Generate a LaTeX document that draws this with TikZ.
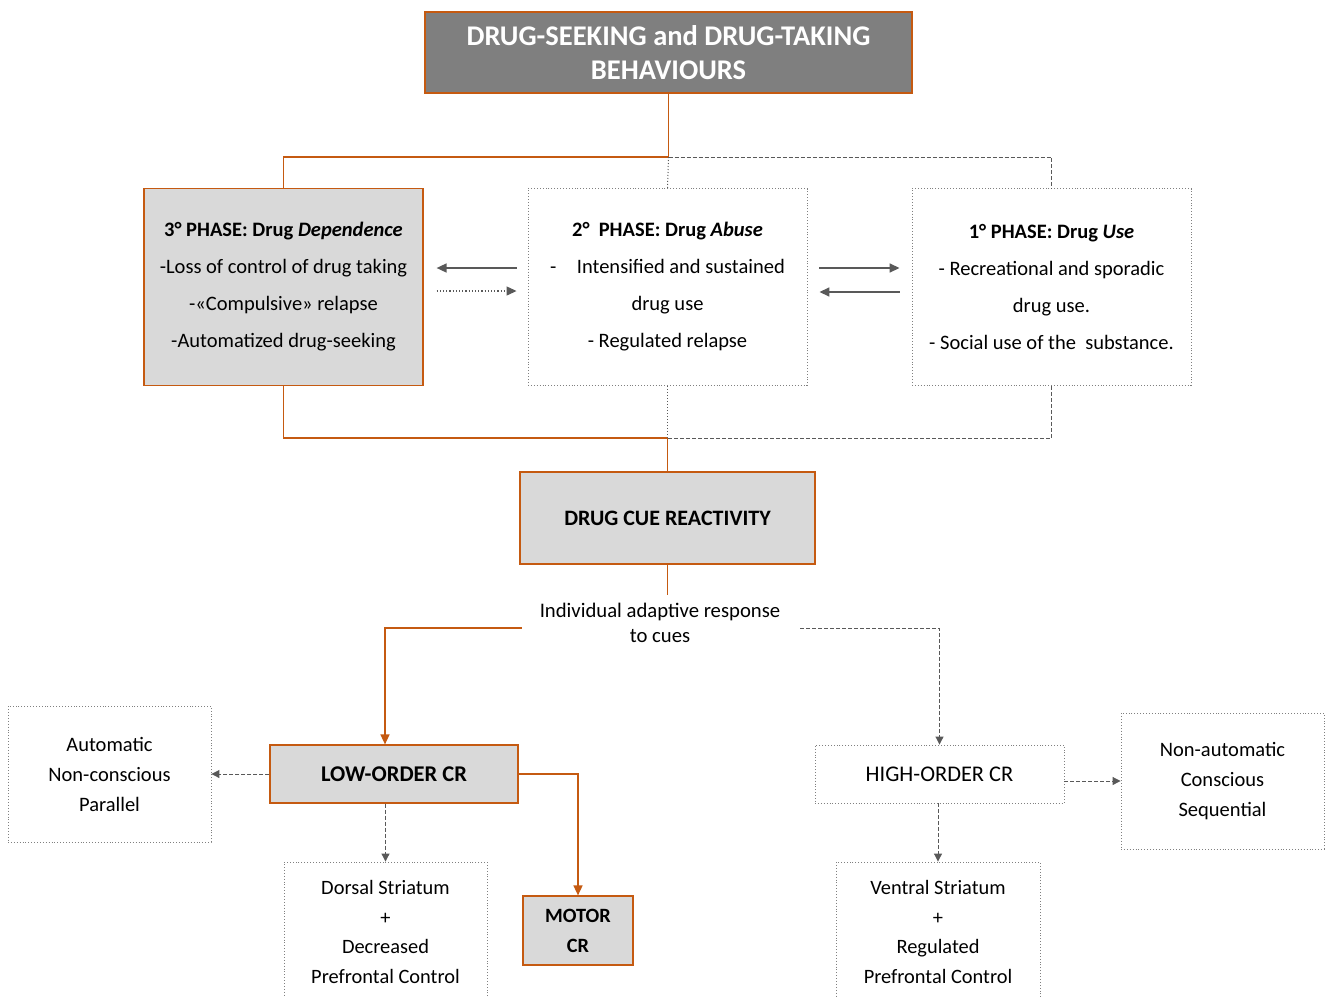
\documentclass[tikz,border=0pt]{standalone}
\usepackage{fontspec}
\setmainfont{Carlito}
\usetikzlibrary{arrows.meta}

\definecolor{rust}{RGB}{197,90,17}
\definecolor{boxgray}{RGB}{217,217,217}
\definecolor{darkbox}{RGB}{127,127,127}
\definecolor{linegray}{RGB}{89,89,89}

\tikzset{
  solidbox/.style={draw=rust, fill=boxgray, line width=1.2pt, align=center},
  openbox/.style={draw=gray, dotted, line width=0.9pt, align=center},
  brownline/.style={draw=rust, line width=1.6pt},
  grayline/.style={draw=linegray, line width=1.6pt},
  grayfine/.style={draw=linegray, line width=1pt},
  dashline/.style={dash pattern=on 4pt off 2pt},
  tip/.style={-{Triangle[length=10pt,width=9pt]}},
  smalltip/.style={-{Triangle[length=8pt,width=8pt]}},
}

\begin{document}
\begin{tikzpicture}[x=1pt, y=-1pt, font=\fontsize{20.5}{37}\selectfont]

    \useasboundingbox (0,0) rectangle (1325,996);
    \clip (0,0) rectangle (1325,996);

    % titolo
    \node[solidbox, fill=darkbox, text=white, font=\bfseries\fontsize{28.5}{34}\selectfont,
          minimum width=487pt, minimum height=81pt] (top) at (668.5,52.5)
          {DRUG-SEEKING and DRUG-TAKING\\BEHAVIOURS};

    % le tre fasi
    \node[solidbox, minimum width=279pt, minimum height=197pt] (dep) at (283.5,287)
          {\textbf{3° PHASE: Drug \textit{Dependence}}\\-Loss of control of drug taking\\-«Compulsive» relapse\\-Automatized drug-seeking};
    \node[openbox, minimum width=279pt, minimum height=197pt] (abuse) at (667.5,287)
          {\textbf{2°\ \ PHASE: Drug \textit{Abuse}}\\-\quad Intensified and sustained\\drug use\\- Regulated relapse};
    \node[openbox, minimum width=279pt, minimum height=197pt] (use) at (1051.5,287)
          {\textbf{1° PHASE: Drug \textit{Use}}\\- Recreational and sporadic\\drug use.\\- Social use of the\ \ substance.};

    % collegamenti in alto
    \coordinate (upsplit) at (top.south |- 0,157);
    \draw[brownline] (top.south) -- (upsplit) -| (dep.north);
    \draw[grayfine, dashline] (upsplit) -| (use.north);
    \draw[grayfine, dotted] (upsplit) -- (abuse.north);

    % frecce tra le fasi
    \draw[grayline, tip, shorten <=11pt, shorten >=13pt] (abuse.west |- 0,268) -- (dep.east |- 0,268);
    \draw[grayline, line width=1.2pt, dotted, tip, shorten <=13pt, shorten >=11pt] (dep.east |- 0,291) -- (abuse.west |- 0,291);
    \draw[grayline, tip, shorten <=12pt, shorten >=12pt] (abuse.east |- 0,268) -- (use.west |- 0,268);
    \draw[grayline, tip, shorten <=12pt, shorten >=12pt] (use.west |- 0,292) -- (abuse.east |- 0,292);

    % cue reactivity
    \node[solidbox, font=\bfseries\fontsize{22}{24}\selectfont,
          minimum width=295pt, minimum height=92pt] (cue) at (667.5,518) {DRUG CUE REACTIVITY};

    \coordinate (lowsplit) at (abuse.south |- 0,438);
    \draw[brownline] (dep.south) |- (lowsplit) -- (cue.north);
    \draw[grayfine, dashline] (use.south) |- (lowsplit);
    \draw[grayfine, dotted] (abuse.south) -- (lowsplit);

    \node[align=center, font=\fontsize{20.7}{25}\selectfont, inner sep=2pt] (resp) at (660,623)
          {Individual adaptive response\\to cues};
    \draw[brownline] (cue.south) -- ++(0,30);

    % risposte condizionate
    \node[solidbox, font=\bfseries\fontsize{22.5}{24}\selectfont,
          minimum width=248pt, minimum height=58pt] (low) at (394,774) {LOW-ORDER CR};
    \node[openbox, font=\fontsize{22.4}{24}\selectfont,
          minimum width=249pt, minimum height=58pt] (high) at (939.5,774) {HIGH-ORDER CR};

    \draw[brownline, tip, shorten <=16pt] (resp.west |- 0,628) -| ([xshift=-9pt]low.north);
    \draw[grayfine, dashline, smalltip, shorten <=18pt] (resp.east |- 0,628) -| (high.north);

    \node[openbox, font=\fontsize{20.5}{30}\selectfont,
          minimum width=203pt, minimum height=136pt] (auto) at (109.5,774)
          {Automatic\\Non-conscious\\Parallel};
    \node[openbox, font=\fontsize{20.5}{30}\selectfont,
          minimum width=203pt, minimum height=136pt] (nonauto) at (1222.5,781)
          {Non-automatic\\Conscious\\Sequential};

    \node[openbox, font=\fontsize{20.4}{29.5}\selectfont,
          minimum width=203pt, minimum height=140pt] (dorsal) at (385.5,932)
          {Dorsal Striatum\\+\\Decreased\\Prefrontal Control};
    \node[openbox, font=\fontsize{20.4}{29.5}\selectfont,
          minimum width=204pt, minimum height=140pt] (ventral) at (938,932)
          {Ventral Striatum\\+\\Regulated\\Prefrontal Control};
    \node[solidbox, font=\bfseries\fontsize{20.3}{30}\selectfont,
          minimum width=110pt, minimum height=69pt] (motor) at (578,930.5) {MOTOR\\CR};

    \draw[grayfine, dashline, smalltip] (low.west) -- (auto.east);
    \draw[grayfine, dashline, smalltip] (dorsal.north |- low.south) -- (dorsal.north);
    \draw[brownline, tip] (low.east) -| (motor.north);
    \draw[grayfine, dashline, smalltip] (high.east |- nonauto.west) -- (nonauto.west);
    \draw[grayfine, dashline, smalltip] (high.south -| ventral.north) -- (ventral.north);

\end{tikzpicture}
\end{document}
